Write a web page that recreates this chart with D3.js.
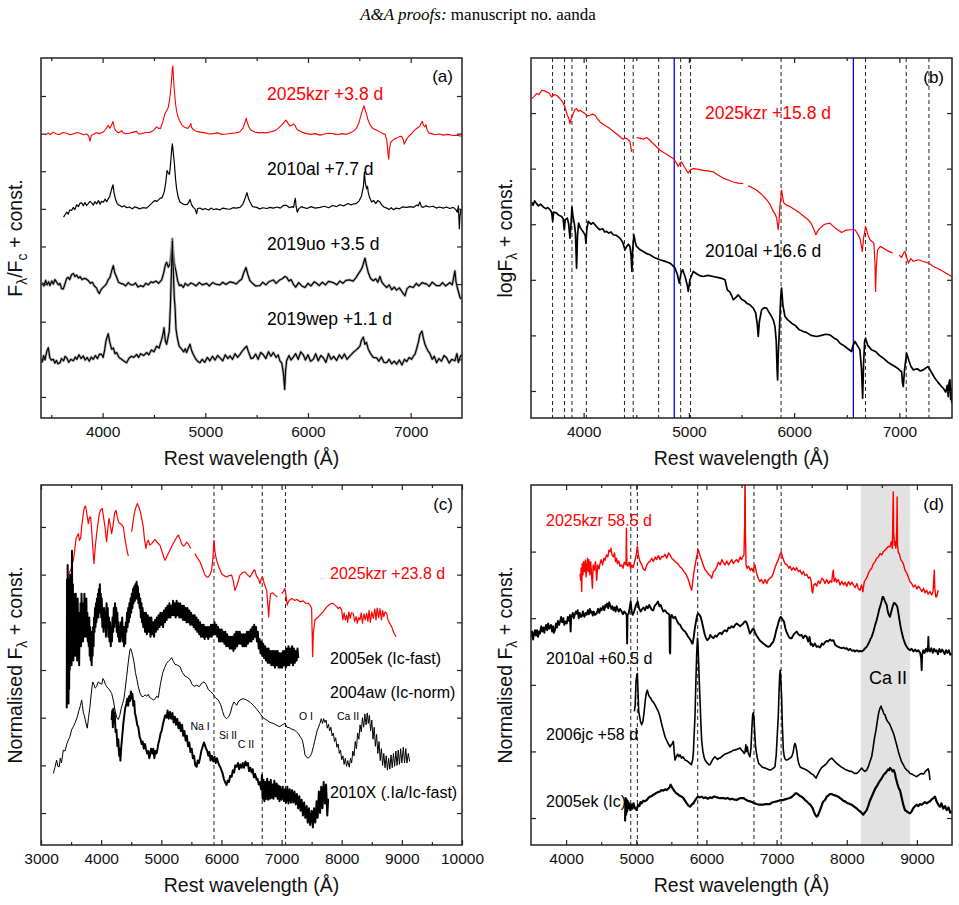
<!DOCTYPE html>
<html>
<head>
<meta charset="utf-8">
<script src="https://cdn.jsdelivr.net/npm/d3@7"></script>
<style>
  body { margin: 0; background: #fff; }
</style>
</head>
<body>
<script>
// ---------- panel (a): continuum-normalised spectra (F/Fc), offsets added when drawn
const namesA = ["2025kzr +3.8 d", "2010al +7.7 d", "2019uo +3.5 d", "2019wep +1.1 d"];
const offsetsA = [6, 4, 2, 0];

const a2025kzr = [[3445,0.96],[3470,1.02],[3490,0.97],[3520,1.04],[3550,0.99],[3585,0.98],[3610,1.03],[3650,1.01],[3680,0.97],[3715,0.99],[3750,1.03],[3780,1.01],[3815,0.97],[3844,0.99],[3865,0.93],[3877,0.80],[3890,0.95],[3909,0.98],[3940,1.02],[3974,1.00],[4010,1.05],[4039,1.15],[4055,1.22],[4070,1.14],[4083,1.20],[4101,1.32],[4112,1.18],[4124,1.09],[4153,1.02],[4175,1.05],[4185,1.08],[4200,1.02],[4218,1.00],[4260,1.01],[4300,1.04],[4331,1.06],[4350,0.99],[4380,1.00],[4420,1.03],[4461,1.03],[4500,1.10],[4526,1.18],[4545,1.14],[4565,1.14],[4590,1.35],[4607,1.53],[4625,1.62],[4640,1.70],[4655,1.95],[4668,2.30],[4678,2.70],[4684,2.80],[4690,2.50],[4698,2.17],[4710,1.80],[4721,1.59],[4737,1.42],[4753,1.33],[4775,1.22],[4802,1.16],[4830,1.14],[4848,1.20],[4858,1.27],[4868,1.16],[4883,1.11],[4915,1.06],[4948,1.04],[5000,1.02],[5040,0.99],[5078,1.00],[5120,1.02],[5160,0.98],[5208,0.99],[5260,1.01],[5300,1.02],[5338,1.05],[5365,1.14],[5380,1.24],[5399,1.41],[5410,1.28],[5428,1.16],[5450,1.08],[5484,1.04],[5530,1.02],[5560,1.03],[5597,1.02],[5640,1.05],[5680,1.08],[5710,1.14],[5740,1.22],[5760,1.27],[5785,1.36],[5800,1.30],[5824,1.20],[5845,1.22],[5860,1.26],[5873,1.22],[5890,1.12],[5906,1.09],[5940,1.04],[5987,1.00],[6030,0.98],[6070,1.00],[6117,0.96],[6160,0.99],[6200,1.01],[6246,1.00],[6290,0.97],[6330,1.00],[6376,0.98],[6420,1.03],[6450,1.08],[6474,1.15],[6495,1.28],[6513,1.46],[6530,1.62],[6546,1.74],[6560,1.60],[6571,1.51],[6585,1.36],[6604,1.24],[6630,1.14],[6669,1.09],[6700,1.04],[6730,1.00],[6750,0.98],[6765,0.85],[6772,0.72],[6780,0.45],[6786,0.32],[6792,0.55],[6805,0.77],[6825,0.82],[6845,0.86],[6863,0.88],[6890,0.92],[6912,0.93],[6925,0.85],[6938,0.72],[6950,0.80],[6967,0.88],[6990,0.95],[7015,1.02],[7042,1.10],[7065,1.15],[7090,1.20],[7100,1.26],[7113,1.33],[7125,1.22],[7140,1.18],[7149,1.24],[7160,1.10],[7175,1.02],[7204,1.00],[7240,0.97],[7280,0.99],[7318,0.96],[7360,0.98],[7415,0.95],[7450,0.96],[7495,0.93]];

const a2010al = [[3620,0.78],[3635,0.85],[3650,0.91],[3665,0.86],[3680,0.97],[3698,0.96],[3715,1.04],[3730,0.98],[3747,1.11],[3765,1.06],[3780,1.15],[3796,1.16],[3812,1.08],[3828,1.17],[3844,1.09],[3860,1.14],[3877,1.20],[3893,1.16],[3910,1.10],[3925,1.19],[3942,1.13],[3960,1.22],[3975,1.12],[3990,1.20],[4007,1.18],[4025,1.26],[4040,1.19],[4055,1.27],[4070,1.33],[4085,1.50],[4101,1.64],[4112,1.42],[4124,1.27],[4140,1.15],[4155,1.10],[4169,1.09],[4190,1.05],[4210,1.08],[4234,1.03],[4260,1.05],[4290,1.00],[4310,1.05],[4331,1.04],[4360,1.00],[4390,1.03],[4429,1.02],[4460,1.10],[4490,1.18],[4510,1.22],[4530,1.20],[4559,1.28],[4580,1.30],[4600,1.45],[4615,1.70],[4628,2.02],[4640,1.95],[4652,1.92],[4662,2.20],[4672,2.55],[4679,2.73],[4688,2.50],[4698,2.24],[4710,1.80],[4721,1.53],[4737,1.30],[4753,1.18],[4775,1.14],[4802,1.11],[4825,1.12],[4840,1.18],[4851,1.25],[4865,1.12],[4883,1.04],[4900,1.00],[4916,0.87],[4925,1.01],[4948,1.02],[4975,0.98],[5000,1.01],[5030,0.97],[5060,1.02],[5078,0.98],[5110,1.00],[5140,0.97],[5170,1.02],[5208,1.00],[5240,0.99],[5270,1.03],[5300,1.02],[5338,1.04],[5365,1.12],[5386,1.27],[5406,1.43],[5420,1.28],[5435,1.18],[5460,1.06],[5500,1.04],[5530,1.00],[5560,1.03],[5600,1.01],[5630,1.04],[5662,1.02],[5700,1.05],[5730,1.02],[5760,1.09],[5792,1.09],[5820,1.03],[5845,1.06],[5860,1.04],[5870,1.20],[5877,1.28],[5885,1.05],[5896,0.91],[5910,1.00],[5935,1.06],[5954,1.04],[5990,1.01],[6030,1.06],[6070,1.02],[6117,1.04],[6160,1.07],[6200,1.03],[6240,1.09],[6280,1.06],[6311,1.11],[6350,1.08],[6390,1.14],[6420,1.10],[6441,1.13],[6470,1.14],[6500,1.22],[6522,1.35],[6540,1.60],[6550,1.98],[6558,1.70],[6571,1.53],[6580,1.60],[6587,1.44],[6600,1.30],[6620,1.18],[6640,1.22],[6660,1.14],[6680,1.22],[6701,1.18],[6720,1.10],[6740,1.05],[6766,1.02],[6790,0.98],[6810,1.03],[6831,0.98],[6860,1.02],[6890,1.00],[6920,1.05],[6961,1.04],[7000,1.06],[7030,1.04],[7060,1.10],[7075,1.08],[7090,1.18],[7105,1.06],[7123,1.04],[7150,1.08],[7180,1.05],[7220,1.07],[7250,1.02],[7280,1.05],[7318,1.02],[7350,1.05],[7380,1.01],[7415,1.04],[7440,0.98],[7454,0.91],[7465,1.08],[7474,0.47],[7480,0.80],[7490,1.00]];

const a2019uo = [[3415,1.04],[3430,0.95],[3445,1.10],[3460,0.98],[3475,1.06],[3487,0.96],[3505,1.08],[3520,1.00],[3535,1.12],[3552,1.05],[3570,0.98],[3585,1.02],[3600,0.88],[3617,0.87],[3635,1.02],[3650,1.15],[3666,1.18],[3680,1.12],[3697,1.25],[3715,1.28],[3730,1.20],[3747,1.24],[3765,1.16],[3780,1.20],[3800,1.12],[3820,1.15],[3844,1.13],[3865,1.08],[3880,1.02],[3900,1.05],[3920,0.95],[3940,0.90],[3955,0.80],[3968,0.75],[3985,0.85],[4000,0.90],[4023,0.96],[4040,1.02],[4055,1.12],[4072,1.18],[4088,1.35],[4104,1.49],[4118,1.30],[4137,1.18],[4155,1.05],[4175,1.02],[4202,1.00],[4225,0.95],[4250,1.04],[4275,0.98],[4299,0.98],[4320,1.03],[4345,0.92],[4370,0.96],[4396,0.93],[4420,1.02],[4445,0.98],[4470,1.06],[4494,1.04],[4520,1.08],[4545,1.02],[4575,1.11],[4595,1.30],[4610,1.50],[4623,1.58],[4640,1.45],[4656,1.53],[4668,1.85],[4679,2.20],[4688,1.90],[4695,1.62],[4705,1.45],[4714,1.35],[4730,1.10],[4747,0.96],[4765,0.98],[4786,0.91],[4805,1.02],[4830,0.96],[4860,1.03],[4883,1.00],[4910,0.95],[4940,1.04],[4970,0.98],[5013,1.02],[5040,0.95],[5070,1.04],[5100,1.00],[5143,0.98],[5170,1.05],[5200,0.99],[5240,1.06],[5273,1.04],[5300,1.00],[5330,1.08],[5354,1.13],[5375,1.30],[5396,1.44],[5415,1.25],[5435,1.09],[5460,1.02],[5490,0.95],[5532,0.96],[5560,1.05],[5590,0.98],[5620,1.06],[5662,1.11],[5690,1.02],[5720,1.10],[5750,1.14],[5775,1.20],[5792,1.18],[5815,1.08],[5835,1.12],[5857,1.00],[5880,0.92],[5910,1.04],[5940,0.95],[5971,0.91],[6000,1.02],[6030,0.95],[6060,1.06],[6084,1.02],[6110,0.96],[6140,1.05],[6170,0.98],[6200,1.07],[6246,1.04],[6280,0.98],[6310,1.08],[6340,1.02],[6370,1.10],[6409,1.11],[6440,1.08],[6470,1.18],[6490,1.27],[6510,1.35],[6530,1.45],[6545,1.60],[6555,1.69],[6570,1.50],[6587,1.31],[6610,1.15],[6636,1.09],[6660,1.14],[6680,1.05],[6701,1.20],[6720,1.05],[6740,0.98],[6766,0.91],[6790,0.98],[6815,0.85],[6840,0.92],[6863,0.84],[6890,0.90],[6915,0.80],[6944,0.69],[6965,0.88],[6990,0.94],[7026,0.91],[7055,1.02],[7080,0.95],[7110,1.04],[7156,1.00],[7180,0.94],[7210,1.05],[7250,0.96],[7285,0.96],[7310,1.04],[7340,0.95],[7383,1.04],[7405,0.98],[7420,1.20],[7431,1.35],[7442,1.05],[7454,0.91],[7470,0.75],[7480,0.65],[7490,0.60]];

const a2019wep = [[3410,0.91],[3425,1.10],[3440,1.00],[3455,1.20],[3471,1.31],[3485,1.05],[3500,0.98],[3520,1.00],[3535,0.90],[3550,0.97],[3565,0.88],[3585,0.91],[3600,1.02],[3620,0.96],[3635,1.08],[3650,1.04],[3670,0.92],[3690,1.00],[3715,0.96],[3735,1.06],[3750,1.00],[3770,1.12],[3790,1.02],[3812,1.09],[3830,0.98],[3850,1.05],[3870,0.95],[3890,1.06],[3909,1.00],[3930,1.10],[3950,1.02],[3970,1.14],[3991,1.13],[4005,1.05],[4020,1.25],[4033,1.49],[4045,1.60],[4055,1.68],[4070,1.45],[4088,1.27],[4105,1.30],[4120,1.15],[4137,1.18],[4160,1.05],[4185,1.00],[4210,0.95],[4234,0.91],[4255,1.02],[4280,1.08],[4305,1.05],[4331,1.13],[4350,1.05],[4370,1.15],[4400,1.10],[4429,1.18],[4450,1.12],[4475,1.25],[4500,1.20],[4526,1.35],[4550,1.30],[4575,1.53],[4590,1.70],[4598,1.84],[4610,1.50],[4623,1.40],[4635,1.55],[4649,1.75],[4660,2.40],[4672,3.50],[4679,4.15],[4688,3.40],[4698,2.64],[4705,2.40],[4715,1.80],[4727,1.58],[4745,1.35],[4770,1.27],[4790,1.20],[4805,1.28],[4818,1.18],[4835,1.30],[4851,1.40],[4865,1.25],[4883,1.13],[4905,1.02],[4925,0.95],[4948,0.91],[4970,1.00],[4995,0.92],[5020,1.05],[5045,0.96],[5070,1.08],[5095,0.98],[5120,1.10],[5143,1.04],[5170,0.96],[5195,1.12],[5220,1.02],[5240,1.09],[5265,1.00],[5290,1.15],[5315,1.05],[5338,1.13],[5360,1.22],[5385,1.30],[5403,1.35],[5420,1.20],[5445,1.02],[5467,1.04],[5490,1.14],[5515,1.00],[5540,1.18],[5565,1.12],[5590,1.02],[5615,1.20],[5640,1.08],[5662,1.18],[5690,1.05],[5710,1.12],[5727,0.96],[5745,0.90],[5762,0.60],[5773,0.20],[5782,0.70],[5792,0.96],[5815,1.10],[5835,0.98],[5857,1.06],[5880,1.15],[5905,1.00],[5930,1.20],[5954,1.12],[5975,0.98],[6000,1.12],[6025,0.95],[6052,1.00],[6075,1.15],[6100,0.96],[6125,1.10],[6149,1.04],[6175,0.92],[6200,1.15],[6225,1.00],[6250,1.08],[6279,0.97],[6305,1.12],[6330,1.02],[6355,1.14],[6380,1.00],[6409,1.09],[6440,1.18],[6470,1.25],[6490,1.30],[6506,1.35],[6520,1.50],[6539,1.59],[6555,1.40],[6570,1.45],[6587,1.27],[6610,1.15],[6635,1.05],[6669,1.04],[6690,0.95],[6715,1.06],[6740,0.92],[6766,0.91],[6790,1.00],[6815,0.88],[6840,0.95],[6863,0.87],[6890,0.98],[6915,0.85],[6940,1.00],[6961,0.94],[6985,1.05],[7010,1.00],[7030,1.10],[7042,1.13],[7060,1.30],[7075,1.45],[7090,1.66],[7110,1.75],[7125,1.55],[7139,1.40],[7155,1.30],[7170,1.22],[7188,1.15],[7210,1.00],[7230,1.08],[7253,0.91],[7275,1.02],[7300,0.95],[7325,1.10],[7350,1.04],[7375,0.90],[7400,1.00],[7431,0.96],[7450,1.15],[7465,0.92],[7480,1.05],[7495,1.13]];

// ---------- panel (b): log flux + const
const namesB = ["2025kzr +15.8 d", "2010al +16.6 d"];
const heLinesB = [3705, 3819, 3889, 4026, 4388, 4471, 4713, 4922, 5016, 5876, 6678, 7065, 7281];
const hLinesB = [4861, 6563];

const b2025kzr = [[3506,5.26],[3530,5.30],[3553,5.35],[3575,5.33],[3601,5.41],[3625,5.40],[3648,5.38],[3670,5.36],[3696,5.29],[3720,5.33],[3743,5.32],[3770,5.27],[3800,5.20],[3820,5.12],[3845,4.96],[3860,4.90],[3870,4.81],[3885,4.92],[3902,4.99],[3915,5.06],[3933,5.08],[3950,5.03],[3965,5.05],[3990,5.02],[4013,4.99],[4035,4.95],[4060,4.96],[4085,4.98],[4108,4.96],[4130,4.90],[4155,4.84],[4200,4.78],[4250,4.72],[4290,4.66],[4329,4.60],[4360,4.55],[4377,4.53],[4395,4.55],[4408,4.54],[4425,4.52],[4440,4.49],[4456,4.30],[4480,null],[4503,4.56],[4530,4.55],[4567,4.53],[4600,4.56],[4630,4.51],[4655,4.46],[4678,4.42],[4700,4.38],[4725,4.33],[4760,4.29],[4788,4.26],[4820,4.22],[4852,4.18],[4875,4.12],[4899,4.04],[4915,4.10],[4931,4.12],[4960,4.02],[4994,3.92],[5015,3.98],[5042,4.00],[5080,3.99],[5137,3.97],[5180,3.96],[5232,3.94],[5280,3.88],[5327,3.83],[5380,3.79],[5422,3.76],[5470,3.74],[5517,3.73],[5540,null],[5564,3.69],[5600,3.66],[5644,3.61],[5690,3.54],[5739,3.44],[5770,3.36],[5802,3.23],[5820,3.18],[5834,3.11],[5849,2.90],[5858,3.10],[5865,3.32],[5881,3.61],[5892,3.48],[5903,3.38],[5930,3.34],[5960,3.32],[6000,3.27],[6055,3.20],[6100,3.13],[6134,3.08],[6160,3.02],[6182,2.93],[6207,2.81],[6225,2.88],[6245,2.93],[6290,3.00],[6340,3.02],[6390,2.93],[6451,2.85],[6490,2.89],[6530,2.90],[6578,2.90],[6600,2.84],[6625,2.75],[6640,2.60],[6648,2.51],[6660,2.75],[6679,2.96],[6700,2.82],[6720,2.72],[6745,2.68],[6758,2.66],[6768,2.30],[6774,1.79],[6780,2.20],[6793,2.54],[6820,2.60],[6847,2.57],[6890,2.52],[6936,2.48],[6965,null],[6999,2.45],[7020,2.40],[7040,2.48],[7053,2.51],[7070,2.40],[7085,2.30],[7110,2.38],[7132,2.33],[7180,2.36],[7227,2.33],[7280,2.30],[7322,2.24],[7370,2.20],[7417,2.15],[7460,2.10],[7496,2.06]];

const b2010al = [[3506,3.40],[3520,3.34],[3535,3.42],[3553,3.37],[3570,3.33],[3590,3.36],[3617,3.31],[3640,3.28],[3660,3.30],[3680,3.26],[3695,3.22],[3706,3.05],[3715,3.22],[3743,3.20],[3765,3.16],[3791,3.14],[3805,3.10],[3816,2.90],[3825,3.08],[3845,3.11],[3858,3.00],[3870,2.75],[3880,3.00],[3889,3.31],[3900,3.12],[3911,3.02],[3922,2.85],[3933,2.21],[3942,2.80],[3952,3.02],[3965,2.95],[3981,2.90],[4000,2.85],[4015,2.80],[4022,2.66],[4030,2.90],[4044,3.05],[4070,3.00],[4090,3.03],[4108,2.99],[4130,2.94],[4155,2.90],[4180,2.92],[4200,2.86],[4218,2.87],[4240,2.84],[4260,2.86],[4282,2.81],[4310,2.80],[4345,2.75],[4370,2.68],[4393,2.54],[4410,2.60],[4425,2.64],[4440,2.60],[4450,2.45],[4459,2.15],[4466,2.55],[4478,2.81],[4490,2.68],[4503,2.60],[4530,2.55],[4567,2.51],[4600,2.47],[4630,2.45],[4670,2.40],[4700,2.38],[4725,2.36],[4760,2.34],[4790,2.32],[4820,2.30],[4845,2.26],[4868,2.21],[4890,2.10],[4909,1.94],[4925,2.12],[4941,2.18],[4965,2.05],[4985,1.90],[4994,1.79],[5010,2.00],[5042,2.15],[5080,2.10],[5110,2.07],[5137,2.06],[5180,2.08],[5232,2.06],[5280,2.04],[5320,2.02],[5343,2.00],[5355,1.90],[5365,1.82],[5390,1.78],[5410,1.70],[5422,1.64],[5445,1.68],[5469,1.73],[5500,1.65],[5530,1.62],[5549,1.58],[5580,1.55],[5612,1.49],[5635,1.40],[5650,1.20],[5659,0.98],[5670,1.25],[5691,1.46],[5715,1.50],[5739,1.49],[5760,1.42],[5786,1.34],[5805,1.26],[5818,1.16],[5830,0.90],[5838,0.40],[5843,0.20],[5850,0.70],[5858,1.00],[5865,1.34],[5873,1.70],[5881,1.85],[5893,1.55],[5913,1.34],[5940,1.28],[5976,1.22],[6010,1.18],[6050,1.10],[6087,1.07],[6120,1.05],[6160,1.00],[6214,0.98],[6260,1.00],[6300,1.02],[6340,1.01],[6380,0.95],[6410,0.92],[6435,0.86],[6470,0.82],[6510,0.76],[6546,0.71],[6560,0.82],[6578,0.89],[6600,0.82],[6625,0.74],[6640,0.40],[6651,-0.13],[6660,0.50],[6670,0.90],[6679,0.95],[6700,0.82],[6736,0.74],[6780,0.70],[6810,0.64],[6847,0.59],[6890,0.52],[6920,0.48],[6958,0.44],[6990,0.40],[7010,0.36],[7021,0.35],[7030,0.15],[7037,0.08],[7050,0.40],[7069,0.68],[7090,0.55],[7110,0.44],[7132,0.38],[7170,0.40],[7200,0.36],[7227,0.38],[7255,0.42],[7274,0.44],[7300,0.35],[7338,0.23],[7370,0.15],[7400,0.08],[7417,0.05],[7440,-0.02],[7455,0.10],[7464,-0.10],[7472,0.15],[7480,0.20],[7487,-0.15],[7493,0.05],[7498,-0.22]];

// ---------- panel (c): normalised flux + const
const namesC = ["2025kzr +23.8 d", "2005ek (Ic-fast)", "2004aw (Ic-norm)", "2010X (.Ia/Ic-fast)"];
const ionsC = ["Na I", "Si II", "C II", "O I", "Ca II"];
const heLinesC = [5876, 6678, 7065];

const c2025kzr = [[3454,4.88],[3470,5.05],[3493,5.09],[3515,5.20],[3537,5.30],[3560,5.50],[3582,5.76],[3600,5.80],[3620,5.86],[3640,5.72],[3659,5.76],[3680,6.05],[3703,6.28],[3720,6.40],[3742,6.44],[3765,6.25],[3787,6.07],[3805,6.20],[3825,6.21],[3850,5.80],[3870,5.40],[3881,5.23],[3900,5.55],[3925,5.86],[3950,6.10],[3970,6.28],[3990,6.35],[4019,6.39],[4040,6.20],[4064,6.00],[4080,5.80],[4091,5.69],[4110,5.95],[4130,6.18],[4150,6.05],[4175,5.86],[4200,6.05],[4225,6.30],[4247,6.35],[4270,6.20],[4290,6.10],[4313,6.07],[4340,6.05],[4369,6.00],[4390,5.80],[4413,5.62],[4435,5.48],[4452,5.39],[4480,null],[4507,5.90],[4530,6.10],[4551,6.28],[4575,6.40],[4601,6.49],[4625,6.42],[4646,6.35],[4670,6.20],[4701,6.00],[4720,5.75],[4745,5.55],[4765,5.68],[4784,5.72],[4810,5.62],[4840,5.65],[4870,5.70],[4895,5.74],[4930,5.68],[4978,5.62],[5020,5.45],[5061,5.30],[5100,5.40],[5144,5.51],[5185,5.62],[5227,5.72],[5255,5.78],[5283,5.83],[5310,5.75],[5338,5.65],[5365,5.60],[5394,5.62],[5420,5.68],[5449,5.65],[5475,5.58],[5494,5.55],[5525,null],[5560,5.44],[5600,5.35],[5643,5.27],[5690,5.12],[5726,4.99],[5760,4.95],[5782,4.95],[5810,5.00],[5837,5.09],[5858,5.35],[5876,5.72],[5895,5.45],[5920,5.30],[5960,5.15],[6003,5.02],[6040,4.98],[6086,4.95],[6130,4.98],[6170,4.99],[6200,4.85],[6225,4.67],[6260,4.78],[6308,4.99],[6350,5.04],[6391,5.06],[6430,5.00],[6474,4.95],[6510,5.02],[6540,5.10],[6558,5.09],[6580,4.98],[6620,4.90],[6641,4.81],[6665,4.92],[6685,4.95],[6710,4.82],[6752,4.67],[6770,4.40],[6785,4.11],[6800,4.40],[6818,4.60],[6850,4.62],[6890,4.57],[6929,4.53],[6960,null],[7001,4.60],[7030,4.65],[7056,4.71],[7075,4.55],[7095,4.36],[7120,4.45],[7167,4.50],[7220,4.46],[7260,4.48],[7306,4.43],[7360,4.45],[7400,4.40],[7444,4.40],[7480,4.35],[7500,4.29],[7508,3.80],[7516,3.28],[7530,3.80],[7555,4.05],[7600,4.10],[7638,4.15],[7690,4.22],[7749,4.32],[7800,4.38],[7849,4.40],[7900,4.35],[7943,4.29],[7970,4.32],[7999,4.26],[8020,4.05],[8040,4.20],[8060,4.05],[8082,4.15],[8100,4.00],[8120,4.22],[8140,4.08],[8160,4.20],[8192,4.19],[8215,4.02],[8240,4.12],[8260,3.98],[8280,4.10],[8303,4.05],[8325,4.20],[8345,3.98],[8370,4.18],[8390,4.05],[8414,4.19],[8435,4.02],[8455,4.25],[8475,4.00],[8500,4.22],[8525,4.08],[8550,4.28],[8570,4.05],[8590,4.30],[8615,4.10],[8636,4.29],[8660,4.05],[8680,4.25],[8700,4.12],[8720,4.22],[8747,4.19],[8770,4.05],[8790,4.00],[8810,3.95],[8830,3.91],[8860,3.80],[8880,3.75],[8902,3.70]];

const c2005ek = [[3428,2.2],[3433,4.9],[3438,2.4],[3443,5.2],[3448,2.6],[3453,4.6],[3458,2.3],[3463,4.9],[3468,2.6],[3473,4.2],[3478,3.0],[3485,5.0],[3492,3.2],[3500,4.6],[3508,3.1],[3515,5.5],[3522,3.4],[3530,4.8],[3538,3.2],[3546,4.6],[3554,3.5],[3562,4.4],[3570,3.3],[3578,4.6],[3586,3.5],[3594,4.3],[3602,3.2],[3610,4.5],[3618,3.6],[3626,4.2],[3634,3.1],[3642,4.1],[3650,3.6],[3658,4.4],[3666,3.5],[3674,4.6],[3682,3.7],[3690,4.3],[3698,3.6],[3706,4.4],[3714,3.8],[3722,4.6],[3730,3.7],[3738,4.3],[3746,3.9],[3754,4.5],[3762,3.7],[3770,4.2],[3778,3.6],[3786,4.0],[3794,3.5],[3802,4.1],[3810,3.3],[3818,3.9],[3826,3.2],[3834,3.8],[3842,3.1],[3850,3.7],[3858,3.3],[3866,3.9],[3874,3.5],[3882,4.1],[3890,3.8],[3898,4.3],[3906,3.9],[3914,4.4],[3922,4.0],[3930,4.5],[3938,4.1],[3946,4.6],[3954,4.1],[3962,4.7],[3970,4.2],[3978,4.8],[3986,4.3],[3994,4.6],[4002,4.1],[4010,4.5],[4020,3.9],[4030,4.3],[4040,3.8],[4050,4.3],[4060,3.9],[4070,4.2],[4080,3.7],[4090,4.4],[4100,3.9],[4110,4.3],[4120,3.7],[4130,4.1],[4140,3.6],[4150,4.0],[4160,3.5],[4170,3.9],[4180,3.6],[4190,4.1],[4200,3.8],[4210,4.3],[4220,3.9],[4230,4.4],[4240,4.0],[4250,4.3],[4260,3.8],[4270,4.2],[4280,3.7],[4290,4.0],[4300,3.6],[4310,3.9],[4320,3.6],[4330,4.0],[4340,3.7],[4350,4.1],[4360,3.6],[4370,3.9],[4380,3.5],[4390,3.9],[4400,3.55],[4410,4.0],[4420,3.8],[4430,4.2],[4440,3.9],[4450,4.3],[4460,4.0],[4470,4.4],[4480,4.1],[4490,4.5],[4500,4.2],[4510,4.6],[4520,4.3],[4530,4.7],[4540,4.4],[4550,4.75],[4560,4.45],[4570,4.8],[4580,4.5],[4590,4.85],[4600,4.5],[4610,4.75],[4620,4.4],[4630,4.6],[4640,4.3],[4650,4.5],[4660,4.1],[4670,4.4],[4680,4.0],[4690,4.3],[4700,3.9],[4715,4.2],[4730,3.8],[4745,4.2],[4760,3.75],[4775,4.15],[4790,3.8],[4805,4.1],[4820,3.7],[4835,4.1],[4850,3.75],[4865,4.0],[4880,3.7],[4895,4.05],[4910,3.8],[4925,4.1],[4940,3.85],[4955,4.15],[4970,3.9],[4985,4.2],[5000,3.95],[5015,4.2],[5030,3.9],[5045,4.25],[5060,4.0],[5075,4.3],[5090,4.05],[5105,4.35],[5120,4.1],[5135,4.4],[5150,4.1],[5165,4.35],[5180,4.15],[5195,4.45],[5210,4.15],[5225,4.4],[5240,4.1],[5255,4.45],[5270,4.15],[5285,4.4],[5300,4.1],[5315,4.4],[5330,4.1],[5345,4.35],[5360,4.05],[5375,4.35],[5390,4.05],[5405,4.3],[5420,4.0],[5435,4.3],[5450,4.0],[5465,4.25],[5480,3.95],[5495,4.2],[5510,3.95],[5525,4.15],[5540,3.9],[5555,4.15],[5570,3.85],[5585,4.1],[5600,3.8],[5615,4.05],[5630,3.75],[5645,4.0],[5660,3.7],[5675,3.95],[5690,3.7],[5705,3.95],[5720,3.65],[5735,3.9],[5750,3.7],[5765,3.9],[5780,3.65],[5795,3.9],[5810,3.7],[5825,3.95],[5840,3.7],[5855,3.95],[5870,3.75],[5885,4.0],[5900,3.75],[5915,3.95],[5930,3.7],[5945,3.9],[5960,3.6],[5975,3.85],[5990,3.6],[6005,3.85],[6020,3.6],[6035,3.8],[6050,3.55],[6065,3.8],[6080,3.5],[6095,3.75],[6110,3.5],[6125,3.7],[6140,3.45],[6155,3.7],[6170,3.45],[6185,3.7],[6200,3.4],[6215,3.75],[6230,3.45],[6245,3.8],[6260,3.5],[6275,3.8],[6290,3.55],[6305,3.8],[6320,3.55],[6335,3.75],[6350,3.5],[6365,3.75],[6380,3.5],[6395,3.75],[6410,3.5],[6425,3.8],[6440,3.55],[6455,3.8],[6470,3.6],[6485,3.85],[6500,3.6],[6515,3.9],[6530,3.65],[6545,3.95],[6560,3.7],[6575,3.9],[6590,3.6],[6605,3.8],[6620,3.45],[6635,3.65],[6650,3.35],[6665,3.6],[6680,3.3],[6695,3.55],[6710,3.25],[6725,3.5],[6740,3.2],[6755,3.45],[6770,3.15],[6785,3.45],[6800,3.15],[6815,3.4],[6830,3.1],[6845,3.4],[6860,3.1],[6875,3.4],[6890,3.05],[6905,3.4],[6920,3.1],[6935,3.4],[6950,3.05],[6965,3.35],[6980,3.05],[6995,3.35],[7010,3.05],[7025,3.4],[7040,3.1],[7055,3.4],[7070,3.05],[7085,3.45],[7100,3.1],[7115,3.5],[7130,3.1],[7145,3.45],[7160,3.15],[7175,3.5],[7190,3.1],[7205,3.45],[7220,3.15],[7235,3.4],[7250,3.2],[7265,3.45],[7278,3.25]];

const c2004aw = [[3205,0.83],[3230,0.95],[3260,1.11],[3280,0.98],[3304,0.97],[3320,1.15],[3340,1.05],[3371,1.32],[3400,1.30],[3430,1.45],[3454,1.53],[3480,1.60],[3510,1.75],[3537,1.81],[3570,1.90],[3604,2.02],[3630,2.15],[3655,2.25],[3676,2.37],[3690,2.25],[3705,2.10],[3720,2.05],[3745,1.90],[3770,1.78],[3790,2.00],[3814,2.23],[3835,2.50],[3859,2.75],[3880,2.70],[3900,2.62],[3925,2.65],[3950,2.75],[3981,2.72],[4010,2.70],[4030,2.82],[4047,2.79],[4070,2.70],[4091,2.65],[4130,2.60],[4175,2.51],[4205,2.35],[4230,2.16],[4260,2.00],[4285,1.96],[4310,2.05],[4335,2.20],[4357,2.30],[4380,2.40],[4400,2.60],[4424,2.86],[4450,3.15],[4475,3.40],[4490,3.45],[4505,3.40],[4525,3.30],[4546,3.17],[4570,2.95],[4595,2.80],[4618,2.65],[4645,2.52],[4673,2.45],[4701,2.44],[4730,2.48],[4760,2.45],[4784,2.49],[4810,2.42],[4840,2.40],[4867,2.37],[4900,2.40],[4925,2.45],[4950,2.42],[4985,2.70],[5022,2.93],[5055,3.05],[5089,3.14],[5130,3.20],[5150,3.22],[5172,3.26],[5200,3.18],[5228,3.12],[5270,3.10],[5311,3.07],[5350,2.95],[5394,2.87],[5430,2.85],[5477,2.80],[5510,2.70],[5544,2.66],[5590,2.68],[5632,2.65],[5670,2.72],[5710,2.75],[5745,2.70],[5782,2.59],[5820,2.55],[5865,2.49],[5900,2.42],[5948,2.37],[5985,2.28],[6020,2.13],[6050,2.02],[6086,1.98],[6120,2.02],[6150,2.10],[6180,2.25],[6208,2.33],[6230,2.30],[6253,2.26],[6280,2.33],[6308,2.37],[6360,2.40],[6419,2.37],[6480,2.32],[6530,2.26],[6585,2.18],[6641,2.09],[6690,2.00],[6752,1.95],[6807,1.90],[6862,1.88],[6920,1.84],[6970,1.81],[7010,1.85],[7056,1.88],[7090,1.80],[7130,1.79],[7170,1.76],[7215,1.74],[7250,1.70],[7278,1.67],[7320,1.58],[7345,1.53],[7370,1.38],[7389,1.22],[7410,1.18],[7444,1.15],[7480,1.20],[7500,1.25],[7530,1.40],[7555,1.53],[7590,1.72],[7638,1.88],[7660,1.98],[7680,1.88],[7700,1.98],[7721,1.90],[7740,1.95],[7760,1.78],[7780,1.86],[7800,1.72],[7820,1.80],[7840,1.62],[7860,1.68],[7880,1.50],[7900,1.58],[7920,1.38],[7940,1.45],[7960,1.25],[7980,1.32],[8000,1.12],[8020,1.20],[8040,1.02],[8060,1.15],[8080,0.98],[8100,1.10],[8126,0.96],[8145,1.15],[8165,1.05],[8185,1.30],[8205,1.20],[8225,1.50],[8245,1.35],[8265,1.68],[8285,1.55],[8305,1.85],[8325,1.70],[8345,2.00],[8365,1.80],[8385,2.08],[8405,1.85],[8425,2.10],[8442,1.88],[8460,2.05],[8480,1.72],[8500,1.95],[8520,1.55],[8540,1.80],[8560,1.40],[8580,1.65],[8600,1.25],[8620,1.50],[8640,1.10],[8660,1.35],[8680,1.00],[8700,1.25],[8720,0.95],[8740,1.20],[8760,0.90],[8780,1.15],[8800,0.92],[8820,1.22],[8840,0.95],[8860,1.25],[8880,0.98],[8900,1.30],[8920,1.00],[8940,1.32],[8960,1.02],[8980,1.35],[9000,1.05],[9024,1.38],[9045,1.05],[9065,1.35],[9085,1.05],[9107,1.25],[9130,1.08]];

const c2010X = [[4175,1.95],[4185,2.15],[4195,1.80],[4205,2.19],[4215,1.90],[4225,2.10],[4240,1.70],[4255,1.75],[4270,1.40],[4285,1.55],[4300,1.20],[4310,1.35],[4320,1.10],[4335,1.40],[4350,1.60],[4369,1.88],[4385,2.05],[4400,2.20],[4420,2.30],[4435,2.40],[4450,2.25],[4465,2.45],[4480,2.35],[4495,2.55],[4507,2.40],[4520,2.50],[4535,2.25],[4550,2.35],[4562,2.10],[4580,2.00],[4600,1.85],[4618,1.80],[4640,1.60],[4655,1.55],[4673,1.45],[4690,1.50],[4710,1.35],[4728,1.45],[4745,1.35],[4765,1.25],[4785,1.30],[4800,1.15],[4812,1.20],[4830,1.35],[4850,1.25],[4867,1.35],[4885,1.15],[4900,1.30],[4920,1.25],[4934,1.32],[4950,1.45],[4970,1.55],[4990,1.68],[5006,1.72],[5025,1.85],[5045,1.95],[5065,2.05],[5089,2.00],[5105,2.15],[5125,1.98],[5145,2.12],[5165,1.98],[5185,2.10],[5205,1.90],[5225,2.02],[5245,1.85],[5265,1.98],[5285,1.78],[5305,1.90],[5325,1.72],[5345,1.85],[5365,1.62],[5385,1.72],[5405,1.52],[5425,1.62],[5445,1.40],[5465,1.48],[5485,1.28],[5505,1.35],[5525,1.15],[5545,1.20],[5565,1.00],[5588,0.97],[5605,1.10],[5625,1.05],[5643,1.15],[5665,1.30],[5690,1.40],[5710,1.48],[5726,1.42],[5745,1.35],[5765,1.30],[5782,1.20],[5800,1.28],[5820,1.10],[5840,1.20],[5865,1.08],[5885,1.18],[5905,1.05],[5925,1.15],[5948,1.05],[5965,1.00],[5985,0.95],[6005,0.88],[6020,0.83],[6040,0.72],[6060,0.65],[6086,0.59],[6105,0.68],[6125,0.65],[6145,0.78],[6170,0.76],[6190,0.90],[6210,0.85],[6230,1.00],[6253,0.97],[6275,1.05],[6295,0.92],[6315,1.02],[6336,0.95],[6355,1.05],[6375,0.95],[6400,1.08],[6419,1.00],[6440,1.05],[6460,0.88],[6480,0.95],[6502,0.85],[6520,0.92],[6540,0.75],[6560,0.82],[6585,0.70],[6600,0.72],[6620,0.60],[6640,0.65],[6660,0.50],[6675,0.80],[6685,0.30],[6700,0.70],[6715,0.25],[6730,0.65],[6745,0.30],[6760,0.72],[6775,0.28],[6790,0.65],[6807,0.30],[6820,0.70],[6835,0.32],[6850,0.60],[6865,0.30],[6880,0.68],[6900,0.35],[6918,0.62],[6935,0.30],[6950,0.58],[6965,0.25],[6980,0.55],[7000,0.28],[7020,0.55],[7040,0.25],[7056,0.50],[7075,0.22],[7095,0.55],[7115,0.20],[7135,0.50],[7155,0.22],[7175,0.48],[7195,0.22],[7215,0.45],[7235,0.18],[7255,0.40],[7275,0.10],[7295,0.35],[7315,0.05],[7335,0.28],[7355,-0.05],[7375,0.22],[7395,-0.10],[7417,0.15],[7435,-0.20],[7455,0.10],[7475,-0.25],[7500,0.05],[7520,-0.30],[7540,0.10],[7560,-0.20],[7583,0.25],[7600,-0.10],[7620,0.45],[7640,0.00],[7660,0.55],[7680,0.10],[7700,0.65],[7721,0.20],[7740,0.60],[7760,-0.05],[7775,0.30]];

// ---------- panel (d): normalised flux + const, nebular phase
const namesD = ["2025kzr 58.5 d", "2010al +60.5 d", "2006jc +58 d", "2005ek (Ic)"];
const heLinesD = [4922, 5016, 5876, 6678, 7065];
const caBandD = [8200, 8900];

const d2025kzr = [[4199,3.67],[4208,3.57],[4215,3.75],[4222,3.40],[4230,3.82],[4240,3.65],[4250,3.85],[4262,3.70],[4275,3.87],[4285,3.62],[4294,3.75],[4305,3.90],[4315,3.70],[4325,3.88],[4340,3.65],[4350,3.85],[4365,3.62],[4375,3.45],[4385,3.80],[4400,3.72],[4420,3.85],[4436,3.57],[4450,3.80],[4470,3.74],[4484,3.82],[4500,3.88],[4520,3.80],[4540,3.90],[4555,3.87],[4575,3.95],[4595,3.92],[4610,4.02],[4626,4.00],[4640,4.05],[4655,3.95],[4674,3.92],[4690,3.98],[4705,3.85],[4720,3.90],[4731,3.82],[4750,3.86],[4770,3.78],[4792,3.80],[4810,3.75],[4830,3.84],[4854,3.80],[4860,4.35],[4866,3.82],[4880,3.78],[4900,3.84],[4920,3.74],[4935,3.80],[4955,3.76],[4982,3.87],[5000,3.95],[5016,4.08],[5030,3.95],[5054,3.85],[5080,3.80],[5100,3.74],[5125,3.72],[5150,3.80],[5175,3.84],[5196,3.85],[5220,3.90],[5245,3.85],[5270,3.92],[5291,3.88],[5315,3.94],[5340,3.88],[5365,3.93],[5386,3.92],[5410,3.96],[5435,3.90],[5460,3.98],[5481,3.95],[5505,3.90],[5538,3.87],[5565,3.84],[5590,3.82],[5624,3.77],[5650,3.75],[5680,3.70],[5709,3.66],[5735,3.60],[5755,3.54],[5770,3.48],[5790,3.42],[5805,3.55],[5820,3.68],[5840,3.80],[5860,3.92],[5885,4.03],[5905,3.95],[5932,3.87],[5960,3.78],[5985,3.72],[6004,3.70],[6030,3.66],[6055,3.64],[6075,3.60],[6100,3.70],[6125,3.72],[6146,3.77],[6170,3.84],[6195,3.80],[6220,3.88],[6241,3.84],[6265,3.80],[6290,3.86],[6315,3.80],[6336,3.84],[6360,3.88],[6385,3.82],[6410,3.86],[6431,3.88],[6455,3.84],[6480,3.92],[6500,3.88],[6517,3.92],[6535,3.95],[6545,4.40],[6550,5.30],[6556,4.30],[6565,3.80],[6580,3.75],[6600,3.78],[6625,3.72],[6645,3.75],[6665,3.70],[6680,3.78],[6692,3.80],[6710,3.70],[6725,3.64],[6740,3.60],[6760,3.55],[6785,3.58],[6811,3.52],[6835,3.58],[6860,3.52],[6882,3.58],[6905,3.60],[6930,3.62],[6954,3.68],[6975,3.75],[7000,3.82],[7025,3.88],[7050,3.96],[7065,3.99],[7085,3.92],[7105,3.86],[7120,3.82],[7150,3.80],[7175,3.75],[7191,3.78],[7215,3.72],[7240,3.76],[7265,3.72],[7286,3.76],[7310,3.70],[7335,3.72],[7360,3.66],[7381,3.70],[7405,3.64],[7430,3.66],[7455,3.60],[7476,3.62],[7495,3.55],[7505,3.40],[7514,3.38],[7530,3.50],[7550,3.52],[7571,3.48],[7595,3.56],[7620,3.52],[7645,3.60],[7666,3.58],[7690,3.52],[7715,3.58],[7740,3.52],[7761,3.56],[7785,3.54],[7800,3.68],[7809,3.72],[7820,3.55],[7840,3.60],[7856,3.54],[7880,3.58],[7905,3.50],[7930,3.55],[7955,3.50],[7975,3.54],[8000,3.48],[8025,3.55],[8050,3.50],[8075,3.54],[8094,3.50],[8120,3.46],[8145,3.52],[8165,3.44],[8189,3.42],[8210,3.50],[8230,3.40],[8250,3.55],[8270,3.58],[8290,3.62],[8310,3.68],[8331,3.72],[8355,3.75],[8380,3.82],[8405,3.85],[8426,3.90],[8450,3.92],[8475,3.97],[8500,3.95],[8521,4.00],[8545,4.02],[8570,4.05],[8595,4.08],[8616,4.07],[8635,4.15],[8650,4.05],[8658,4.60],[8663,4.90],[8668,4.30],[8680,4.10],[8690,4.15],[8700,4.05],[8712,4.30],[8718,4.82],[8724,4.10],[8735,3.98],[8749,3.97],[8770,3.88],[8790,3.85],[8806,3.82],[8830,3.72],[8855,3.68],[8877,3.62],[8900,3.55],[8925,3.52],[8949,3.47],[8975,3.50],[9000,3.44],[9020,3.48],[9044,3.45],[9070,3.40],[9095,3.45],[9115,3.38],[9139,3.42],[9160,3.36],[9185,3.40],[9210,3.35],[9230,3.40],[9242,3.62],[9248,3.72],[9255,3.45],[9270,3.32],[9281,3.32],[9295,3.38],[9305,3.42]];

const d2010al = [[3500,2.72],[3515,2.80],[3530,2.68],[3545,2.78],[3557,2.82],[3570,2.74],[3585,2.82],[3600,2.72],[3615,2.80],[3629,2.77],[3645,2.88],[3660,2.80],[3675,2.86],[3690,2.78],[3700,2.85],[3715,2.90],[3730,2.82],[3745,2.92],[3760,2.84],[3771,2.87],[3785,2.90],[3800,2.80],[3815,2.88],[3825,2.78],[3842,2.82],[3856,2.92],[3870,2.86],[3885,2.96],[3900,2.90],[3914,2.95],[3930,3.02],[3945,2.94],[3961,3.00],[3975,2.90],[3990,2.95],[4009,2.92],[4025,3.02],[4040,2.96],[4055,3.05],[4065,2.80],[4072,3.02],[4080,3.02],[4095,3.08],[4110,3.00],[4125,3.06],[4140,3.10],[4151,3.07],[4165,3.12],[4180,3.00],[4195,3.08],[4210,3.02],[4222,3.02],[4240,3.10],[4260,3.02],[4280,3.08],[4294,3.05],[4310,3.12],[4325,3.06],[4340,3.14],[4355,3.08],[4365,3.10],[4380,3.04],[4395,3.10],[4410,3.05],[4436,3.07],[4455,3.14],[4475,3.08],[4490,3.15],[4507,3.12],[4525,3.18],[4545,3.12],[4560,3.20],[4569,3.17],[4585,3.22],[4600,3.15],[4615,3.24],[4626,3.20],[4645,3.14],[4660,3.18],[4674,3.12],[4690,3.16],[4705,3.10],[4720,3.18],[4731,3.15],[4750,3.10],[4770,3.14],[4792,3.10],[4810,3.06],[4830,3.10],[4854,3.07],[4864,3.04],[4870,2.62],[4876,3.05],[4892,3.07],[4905,3.15],[4921,3.25],[4935,3.10],[4950,3.05],[4959,3.07],[4975,3.12],[4997,3.20],[5020,3.25],[5040,3.15],[5063,3.10],[5085,3.14],[5105,3.16],[5125,3.12],[5145,3.18],[5165,3.15],[5185,3.20],[5196,3.17],[5215,3.14],[5230,3.12],[5244,3.12],[5260,3.18],[5275,3.20],[5291,3.22],[5310,3.25],[5330,3.18],[5348,3.20],[5365,3.15],[5386,3.10],[5410,3.12],[5435,3.08],[5457,3.07],[5472,3.05],[5478,2.50],[5484,2.47],[5490,3.00],[5505,3.05],[5530,3.00],[5555,3.02],[5576,2.97],[5600,2.92],[5625,2.90],[5650,2.85],[5671,2.82],[5695,2.80],[5720,2.76],[5740,2.72],[5756,2.70],[5780,2.66],[5795,2.62],[5804,2.62],[5820,2.72],[5835,2.85],[5847,2.92],[5860,3.00],[5870,3.05],[5885,3.07],[5900,3.05],[5918,3.02],[5935,2.95],[5956,2.85],[5975,2.76],[5995,2.70],[6013,2.67],[6040,2.70],[6055,2.75],[6075,2.72],[6100,2.70],[6125,2.74],[6146,2.72],[6170,2.76],[6195,2.78],[6220,2.76],[6241,2.80],[6265,2.82],[6290,2.80],[6315,2.86],[6336,2.85],[6360,2.88],[6385,2.86],[6410,2.90],[6431,2.92],[6455,2.90],[6480,2.88],[6502,2.90],[6525,2.92],[6545,2.95],[6564,2.95],[6585,2.90],[6605,2.82],[6621,2.77],[6640,2.80],[6660,2.84],[6678,2.83],[6695,2.78],[6715,2.74],[6740,2.70],[6765,2.66],[6790,2.64],[6811,2.62],[6835,2.60],[6860,2.58],[6882,2.57],[6905,2.58],[6930,2.62],[6954,2.65],[6975,2.72],[6995,2.82],[7011,2.87],[7030,2.95],[7045,3.00],[7058,3.02],[7075,3.00],[7090,2.97],[7105,2.95],[7125,2.85],[7140,2.80],[7153,2.77],[7175,2.72],[7195,2.70],[7215,2.70],[7240,2.75],[7265,2.78],[7286,2.80],[7310,2.76],[7335,2.74],[7357,2.75],[7380,2.70],[7405,2.74],[7429,2.72],[7450,2.65],[7470,2.72],[7485,2.60],[7500,2.62],[7520,2.58],[7545,2.62],[7571,2.57],[7595,2.58],[7620,2.56],[7645,2.62],[7666,2.60],[7690,2.64],[7715,2.66],[7737,2.65],[7760,2.68],[7785,2.66],[7809,2.67],[7835,2.60],[7860,2.58],[7880,2.57],[7905,2.56],[7930,2.55],[7955,2.56],[7980,2.54],[7999,2.55],[8025,2.52],[8050,2.54],[8075,2.51],[8100,2.52],[8117,2.50],[8145,2.52],[8170,2.50],[8195,2.51],[8212,2.50],[8240,2.52],[8262,2.55],[8284,2.57],[8310,2.62],[8335,2.68],[8355,2.72],[8380,2.80],[8405,2.90],[8426,2.97],[8445,3.05],[8465,3.14],[8483,3.20],[8500,3.27],[8510,3.32],[8521,3.32],[8535,3.28],[8550,3.24],[8569,3.20],[8585,3.10],[8600,3.05],[8616,3.02],[8635,3.10],[8655,3.18],[8673,3.23],[8690,3.22],[8705,3.20],[8721,3.17],[8740,3.05],[8755,2.95],[8768,2.87],[8785,2.78],[8805,2.70],[8830,2.62],[8850,2.58],[8875,2.54],[8901,2.52],[8925,2.54],[8950,2.50],[8975,2.53],[8996,2.50],[9020,2.52],[9045,2.48],[9060,2.40],[9068,2.22],[9075,2.45],[9091,2.52],[9110,2.48],[9130,2.54],[9150,2.50],[9160,2.60],[9163,2.72],[9170,2.52],[9186,2.50],[9205,2.55],[9225,2.48],[9245,2.54],[9265,2.50],[9281,2.52],[9300,2.46],[9320,2.54],[9340,2.49],[9360,2.53],[9376,2.50],[9395,2.46],[9415,2.52],[9435,2.48],[9455,2.52],[9475,2.45],[9495,2.47]];

const d2006jc = [[4973,1.60],[4985,1.70],[4997,2.05],[5008,2.15],[5016,2.17],[5025,1.90],[5035,1.60],[5044,1.55],[5060,1.45],[5077,1.40],[5095,1.45],[5110,1.57],[5130,1.78],[5145,1.88],[5158,1.92],[5175,1.85],[5190,1.82],[5206,1.80],[5225,1.76],[5245,1.74],[5267,1.70],[5290,1.65],[5315,1.60],[5339,1.52],[5360,1.42],[5385,1.32],[5410,1.22],[5440,1.15],[5465,1.10],[5481,1.07],[5500,1.10],[5515,1.12],[5529,1.15],[5540,1.00],[5553,0.87],[5570,0.92],[5590,0.96],[5605,0.92],[5624,0.95],[5645,0.90],[5665,0.92],[5695,0.87],[5720,0.86],[5745,0.84],[5766,0.82],[5785,0.80],[5804,0.87],[5815,1.00],[5825,1.25],[5837,1.52],[5850,2.05],[5861,2.45],[5872,2.70],[5880,2.62],[5890,2.30],[5900,2.00],[5909,1.77],[5920,1.45],[5932,1.17],[5950,1.00],[5965,0.92],[5980,0.87],[6000,0.84],[6020,0.82],[6035,0.80],[6051,0.80],[6070,0.84],[6090,0.88],[6105,0.90],[6122,0.92],[6140,0.90],[6160,0.88],[6180,0.90],[6194,0.90],[6215,0.92],[6240,0.94],[6265,0.96],[6290,0.97],[6315,0.98],[6336,0.99],[6360,1.00],[6385,1.02],[6407,1.02],[6430,1.03],[6455,1.04],[6479,1.05],[6500,1.02],[6520,1.00],[6540,0.97],[6550,0.99],[6562,1.10],[6572,1.00],[6583,1.07],[6595,0.98],[6610,0.94],[6621,0.92],[6635,1.05],[6648,1.35],[6659,1.55],[6668,1.58],[6678,1.50],[6690,1.25],[6700,1.08],[6707,1.02],[6725,0.90],[6745,0.82],[6764,0.80],[6790,0.77],[6810,0.76],[6835,0.75],[6860,0.74],[6885,0.73],[6906,0.72],[6930,0.73],[6955,0.75],[6977,0.77],[6995,0.95],[7010,1.25],[7025,1.55],[7035,1.90],[7045,2.15],[7052,2.22],[7062,2.05],[7072,1.80],[7082,1.40],[7096,1.02],[7110,0.92],[7125,0.88],[7144,0.87],[7165,0.88],[7190,0.90],[7215,0.92],[7235,0.98],[7250,1.08],[7262,1.12],[7275,1.08],[7286,1.02],[7300,0.90],[7315,0.82],[7334,0.77],[7360,0.75],[7390,0.74],[7410,0.73],[7429,0.72],[7455,0.70],[7480,0.68],[7500,0.66],[7524,0.65],[7545,0.62],[7562,0.60],[7580,0.64],[7600,0.68],[7619,0.72],[7645,0.76],[7670,0.78],[7695,0.80],[7714,0.82],[7740,0.86],[7760,0.88],[7785,0.90],[7805,0.88],[7830,0.85],[7856,0.82],[7880,0.80],[7905,0.78],[7930,0.76],[7951,0.75],[7975,0.73],[8000,0.72],[8025,0.71],[8046,0.70],[8070,0.70],[8095,0.68],[8120,0.67],[8141,0.67],[8165,0.69],[8190,0.72],[8212,0.75],[8235,0.72],[8260,0.70],[8284,0.72],[8310,0.78],[8335,0.86],[8355,0.92],[8375,1.05],[8395,1.20],[8417,1.32],[8435,1.45],[8455,1.58],[8474,1.65],[8490,1.68],[8500,1.64],[8512,1.62],[8530,1.56],[8545,1.55],[8559,1.50],[8575,1.46],[8590,1.44],[8605,1.42],[8616,1.40],[8635,1.35],[8655,1.30],[8673,1.25],[8690,1.18],[8711,1.10],[8735,1.00],[8758,0.92],[8780,0.85],[8805,0.80],[8830,0.75],[8855,0.72],[8880,0.70],[8901,0.67],[8930,0.66],[8960,0.64],[8996,0.62],[9020,0.64],[9045,0.66],[9068,0.67],[9095,0.66],[9120,0.70],[9139,0.72],[9160,0.74],[9175,0.68],[9186,0.57]];

const d2005ek = [[4840,-0.05],[4848,0.30],[4855,0.05],[4862,0.28],[4870,0.10],[4880,0.25],[4890,0.15],[4900,0.22],[4915,0.12],[4930,0.20],[4945,0.14],[4960,0.22],[4980,0.15],[5006,0.12],[5025,0.20],[5045,0.18],[5060,0.24],[5077,0.22],[5100,0.26],[5120,0.25],[5149,0.27],[5170,0.30],[5195,0.32],[5220,0.33],[5244,0.35],[5265,0.36],[5290,0.38],[5315,0.39],[5339,0.40],[5360,0.42],[5385,0.41],[5410,0.43],[5434,0.42],[5455,0.44],[5475,0.46],[5490,0.50],[5505,0.47],[5520,0.44],[5540,0.41],[5560,0.38],[5576,0.37],[5600,0.35],[5625,0.33],[5650,0.32],[5671,0.30],[5695,0.26],[5720,0.22],[5740,0.19],[5766,0.17],[5790,0.20],[5814,0.22],[5835,0.26],[5861,0.30],[5880,0.32],[5900,0.31],[5932,0.32],[5960,0.30],[5990,0.31],[6020,0.29],[6050,0.31],[6080,0.30],[6100,0.32],[6122,0.32],[6150,0.31],[6180,0.30],[6210,0.30],[6241,0.30],[6270,0.29],[6300,0.30],[6336,0.28],[6360,0.29],[6390,0.28],[6431,0.27],[6460,0.29],[6490,0.30],[6526,0.30],[6555,0.28],[6590,0.26],[6621,0.25],[6650,0.24],[6685,0.22],[6716,0.21],[6750,0.20],[6780,0.20],[6811,0.20],[6840,0.21],[6870,0.21],[6906,0.21],[6930,0.23],[6960,0.24],[7001,0.25],[7030,0.26],[7060,0.27],[7096,0.27],[7120,0.28],[7150,0.29],[7191,0.30],[7220,0.32],[7250,0.35],[7270,0.37],[7286,0.37],[7310,0.35],[7335,0.33],[7357,0.32],[7380,0.30],[7405,0.27],[7429,0.25],[7455,0.22],[7480,0.20],[7500,0.17],[7514,0.15],[7530,0.10],[7550,0.05],[7571,0.02],[7590,0.04],[7605,0.08],[7619,0.12],[7640,0.18],[7660,0.24],[7690,0.27],[7715,0.32],[7740,0.34],[7760,0.36],[7785,0.36],[7805,0.35],[7830,0.34],[7855,0.33],[7880,0.32],[7905,0.30],[7930,0.28],[7950,0.26],[7975,0.25],[8000,0.23],[8020,0.22],[8045,0.21],[8070,0.20],[8095,0.18],[8120,0.16],[8145,0.14],[8165,0.12],[8190,0.10],[8210,0.08],[8236,0.05],[8255,0.08],[8270,0.10],[8284,0.12],[8305,0.18],[8330,0.26],[8355,0.32],[8380,0.38],[8405,0.44],[8430,0.48],[8450,0.52],[8475,0.56],[8500,0.60],[8520,0.64],[8545,0.67],[8570,0.70],[8590,0.73],[8605,0.72],[8616,0.75],[8635,0.73],[8655,0.70],[8670,0.72],[8687,0.67],[8700,0.60],[8720,0.52],[8740,0.45],[8758,0.42],[8780,0.32],[8805,0.20],[8830,0.12],[8855,0.10],[8880,0.08],[8901,0.07],[8925,0.10],[8950,0.15],[8975,0.18],[8996,0.20],[9020,0.18],[9045,0.21],[9070,0.20],[9091,0.22],[9115,0.24],[9140,0.22],[9165,0.24],[9186,0.25],[9210,0.28],[9235,0.30],[9258,0.32],[9280,0.25],[9305,0.20],[9329,0.17],[9350,0.22],[9375,0.14],[9400,0.18],[9424,0.12],[9450,0.16],[9475,0.08],[9495,0.10]];

// ---------- layout
const W = 959, H = 905;
const PW = 421, PH = 360;
const SANS = "'Liberation Sans', Arial, Helvetica, sans-serif";
const RED = "#ff0000";

const svg = d3.select("body").append("svg")
  .attr("width", W)
  .attr("height", H)
  .style("background", "#fff");

// running header
const head = svg.append("text")
  .attr("x", 478).attr("y", 20)
  .attr("text-anchor", "middle")
  .style("font-family", "'Liberation Serif', 'Times New Roman', serif")
  .style("font-size", "17px");
head.append("tspan").style("font-style", "italic").text("A&A proofs:");
head.append("tspan").text(" manuscript no. aanda");

function makePanel(id, left, top, xd, yd) {
  const g = svg.append("g").attr("transform", `translate(${left},${top})`);
  const x = d3.scaleLinear().domain(xd).range([0, PW]);
  const y = d3.scaleLinear().domain(yd).range([PH, 0]);
  g.append("clipPath").attr("id", "clip-" + id)
    .append("rect").attr("width", PW).attr("height", PH);
  const plot = g.append("g").attr("clip-path", `url(#clip-${id})`);
  return { g, plot, x, y };
}

function drawSpec(p, data, color, width, offset = 0) {
  const line = d3.line()
    .defined(d => d[1] !== null)
    .x(d => p.x(d[0]))
    .y(d => p.y(d[1] + offset));
  p.plot.append("path")
    .datum(data)
    .attr("d", line)
    .attr("fill", "none")
    .attr("stroke", color)
    .attr("stroke-width", width)
    .attr("stroke-linejoin", "round");
}

function vLines(p, waves, color, dashed, width) {
  p.plot.selectAll(null)
    .data(waves)
    .enter().append("line")
    .attr("x1", d => p.x(d)).attr("x2", d => p.x(d))
    .attr("y1", 0).attr("y2", PH)
    .attr("stroke", color)
    .attr("stroke-width", width)
    .attr("stroke-dasharray", dashed ? "4,3" : null);
}

function axes(p, xMajor, xMinor, yTicks, yTitle) {
  const g = p.g;
  const clean = s => s.select(".domain").remove();
  const style = s => s.attr("color", "#222").selectAll("line").attr("stroke-width", 1.2);

  const bot = g.append("g").attr("transform", `translate(0,${PH})`)
    .call(d3.axisBottom(p.x).tickValues(xMajor).tickSize(-5).tickPadding(8).tickFormat(d3.format("d")));
  bot.call(clean).call(style);
  bot.attr("font-family", SANS).attr("font-size", 15.5);
  bot.selectAll("text").attr("fill", "#111");

  g.append("g").attr("transform", `translate(0,${PH})`)
    .call(d3.axisBottom(p.x).tickValues(xMinor).tickSize(-3).tickFormat(""))
    .call(clean).call(style);
  g.append("g")
    .call(d3.axisTop(p.x).tickValues(xMajor).tickSize(-5).tickFormat(""))
    .call(clean).call(style);
  g.append("g")
    .call(d3.axisTop(p.x).tickValues(xMinor).tickSize(-3).tickFormat(""))
    .call(clean).call(style);
  g.append("g")
    .call(d3.axisLeft(p.y).tickValues(yTicks).tickSize(-5).tickFormat(""))
    .call(clean).call(style);
  g.append("g").attr("transform", `translate(${PW},0)`)
    .call(d3.axisRight(p.y).tickValues(yTicks).tickSize(-5).tickFormat(""))
    .call(clean).call(style);

  g.append("rect")
    .attr("width", PW).attr("height", PH)
    .attr("fill", "none").attr("stroke", "#222").attr("stroke-width", 1.5);

  g.append("text")
    .attr("x", PW / 2).attr("y", PH + 47)
    .attr("text-anchor", "middle")
    .style("font-family", SANS).style("font-size", "19.5px").attr("fill", "#111")
    .text("Rest wavelength (Å)");

  // rotated y title; subscripts dropped by 5px and restored after
  const yt = g.append("text")
    .attr("transform", `translate(-19,${PH / 2}) rotate(-90)`)
    .attr("text-anchor", "middle")
    .style("font-family", SANS).style("font-size", "19.5px").attr("fill", "#111");
  let low = false;
  yTitle.forEach(([s, sub]) => {
    const t = yt.append("tspan").text(s);
    if (sub) { t.attr("dy", 5).style("font-size", "14px"); low = true; }
    else if (low) { t.attr("dy", -5); low = false; }
  });
}

function label(p, text, wl, v, color, size, anchor = "start") {
  p.g.append("text")
    .attr("x", p.x(wl)).attr("y", p.y(v))
    .attr("text-anchor", anchor)
    .style("font-family", SANS).style("font-size", size + "px")
    .attr("fill", color)
    .text(text);
}

// ---------- panel (a)
const pa = makePanel("a", 41, 58, [3400, 7500], [-0.56, 9.01]);
drawSpec(pa, a2025kzr, RED, 1.1, offsetsA[0]);
drawSpec(pa, a2010al, "#000", 1.2, offsetsA[1]);
drawSpec(pa, a2019uo, "#b8b8b8", 2.8, offsetsA[2]);
drawSpec(pa, a2019uo, "#000", 1.2, offsetsA[2]);
drawSpec(pa, a2019wep, "#b8b8b8", 2.8, offsetsA[3]);
drawSpec(pa, a2019wep, "#000", 1.2, offsetsA[3]);
axes(pa, [4000, 5000, 6000, 7000], [3500, 4500, 5500, 6500], d3.range(0, 9),
  [["F", false], ["λ", true], ["/F", false], ["c", true], [" + const.", false]]);
label(pa, namesA[0], 5601, 7.90, RED, 17.5);
label(pa, namesA[1], 5601, 5.90, "#000", 17.5);
label(pa, namesA[2], 5601, 3.91, "#000", 17.5);
label(pa, namesA[3], 5601, 1.91, "#000", 17.5);
label(pa, "(a)", 7412, 8.36, "#000", 17, "end");

// ---------- panel (b)
const pb = makePanel("b", 531, 58, [3500, 7500], [-0.486, 5.99]);
vLines(pb, heLinesB, "#222", true, 1);
vLines(pb, hLinesB, "#0000ff", false, 1.3);
drawSpec(pb, b2025kzr, RED, 1.2);
drawSpec(pb, b2010al, "#000", 1.7);
axes(pb, [4000, 5000, 6000, 7000], [4500, 5500, 6500], d3.range(0, 6),
  [["logF", false], ["λ", true], [" + const.", false]]);
label(pb, namesB[0], 5153, 4.89, RED, 17.5);
label(pb, namesB[1], 5153, 2.41, "#000", 17.5);
label(pb, "(b)", 7424, 5.54, "#000", 17, "end");

// ---------- panel (c)
const pc = makePanel("c", 41, 485, [3000, 10000], [-0.67, 6.88]);
vLines(pc, heLinesC, "#222", true, 1);
drawSpec(pc, c2025kzr, RED, 1.2);
drawSpec(pc, c2005ek, "#000", 2.0);
drawSpec(pc, c2004aw, "#000", 1.0);
drawSpec(pc, c2010X, "#000", 2.0);
axes(pc, d3.range(3000, 10001, 1000), d3.range(3500, 9501, 1000), d3.range(0, 7),
  [["Normalised F", false], ["λ", true], [" + const.", false]]);
label(pc, namesC[0], 7805, 4.91, RED, 16);
label(pc, namesC[1], 7805, 3.12, "#000", 16);
label(pc, namesC[2], 7805, 2.41, "#000", 16);
label(pc, namesC[3], 7805, 0.31, "#000", 16);
label(pc, "(c)", 9850, 6.35, "#000", 17, "end");
label(pc, ionsC[0], 5646, 1.74, "#000", 10.5, "middle");
label(pc, ionsC[1], 6109, 1.55, "#000", 10.5, "middle");
label(pc, ionsC[2], 6408, 1.36, "#000", 10.5, "middle");
label(pc, ionsC[3], 7406, 1.95, "#000", 10.5, "middle");
label(pc, ionsC[4], 8104, 1.95, "#000", 10.5, "middle");

// ---------- panel (d)
const pd = makePanel("d", 531, 485, [3500, 9500], [-0.405, 5.0]);
pd.plot.append("rect")
  .attr("x", pd.x(caBandD[0]))
  .attr("width", pd.x(caBandD[1]) - pd.x(caBandD[0]))
  .attr("y", 0).attr("height", PH)
  .attr("fill", "#e2e2e2");
vLines(pd, heLinesD, "#222", true, 1);
drawSpec(pd, d2025kzr, RED, 1.4);
drawSpec(pd, d2010al, "#000", 1.9);
drawSpec(pd, d2006jc, "#000", 1.6);
drawSpec(pd, d2005ek, "#000", 2.2);
axes(pd, d3.range(4000, 9001, 1000), d3.range(4500, 9001, 1000), d3.range(0, 5),
  [["Normalised F", false], ["λ", true], [" + const.", false]]);
label(pd, namesD[0], 3714, 4.38, RED, 16);
label(pd, namesD[1], 3714, 2.31, "#000", 16);
label(pd, namesD[2], 3714, 1.17, "#000", 16);
label(pd, namesD[3], 3714, 0.17, "#000", 16);
label(pd, "(d)", 9386, 4.62, "#000", 17, "end");
label(pd, "Ca II", 8588, 2.01, "#000", 18, "middle");
</script>
</body>
</html>
